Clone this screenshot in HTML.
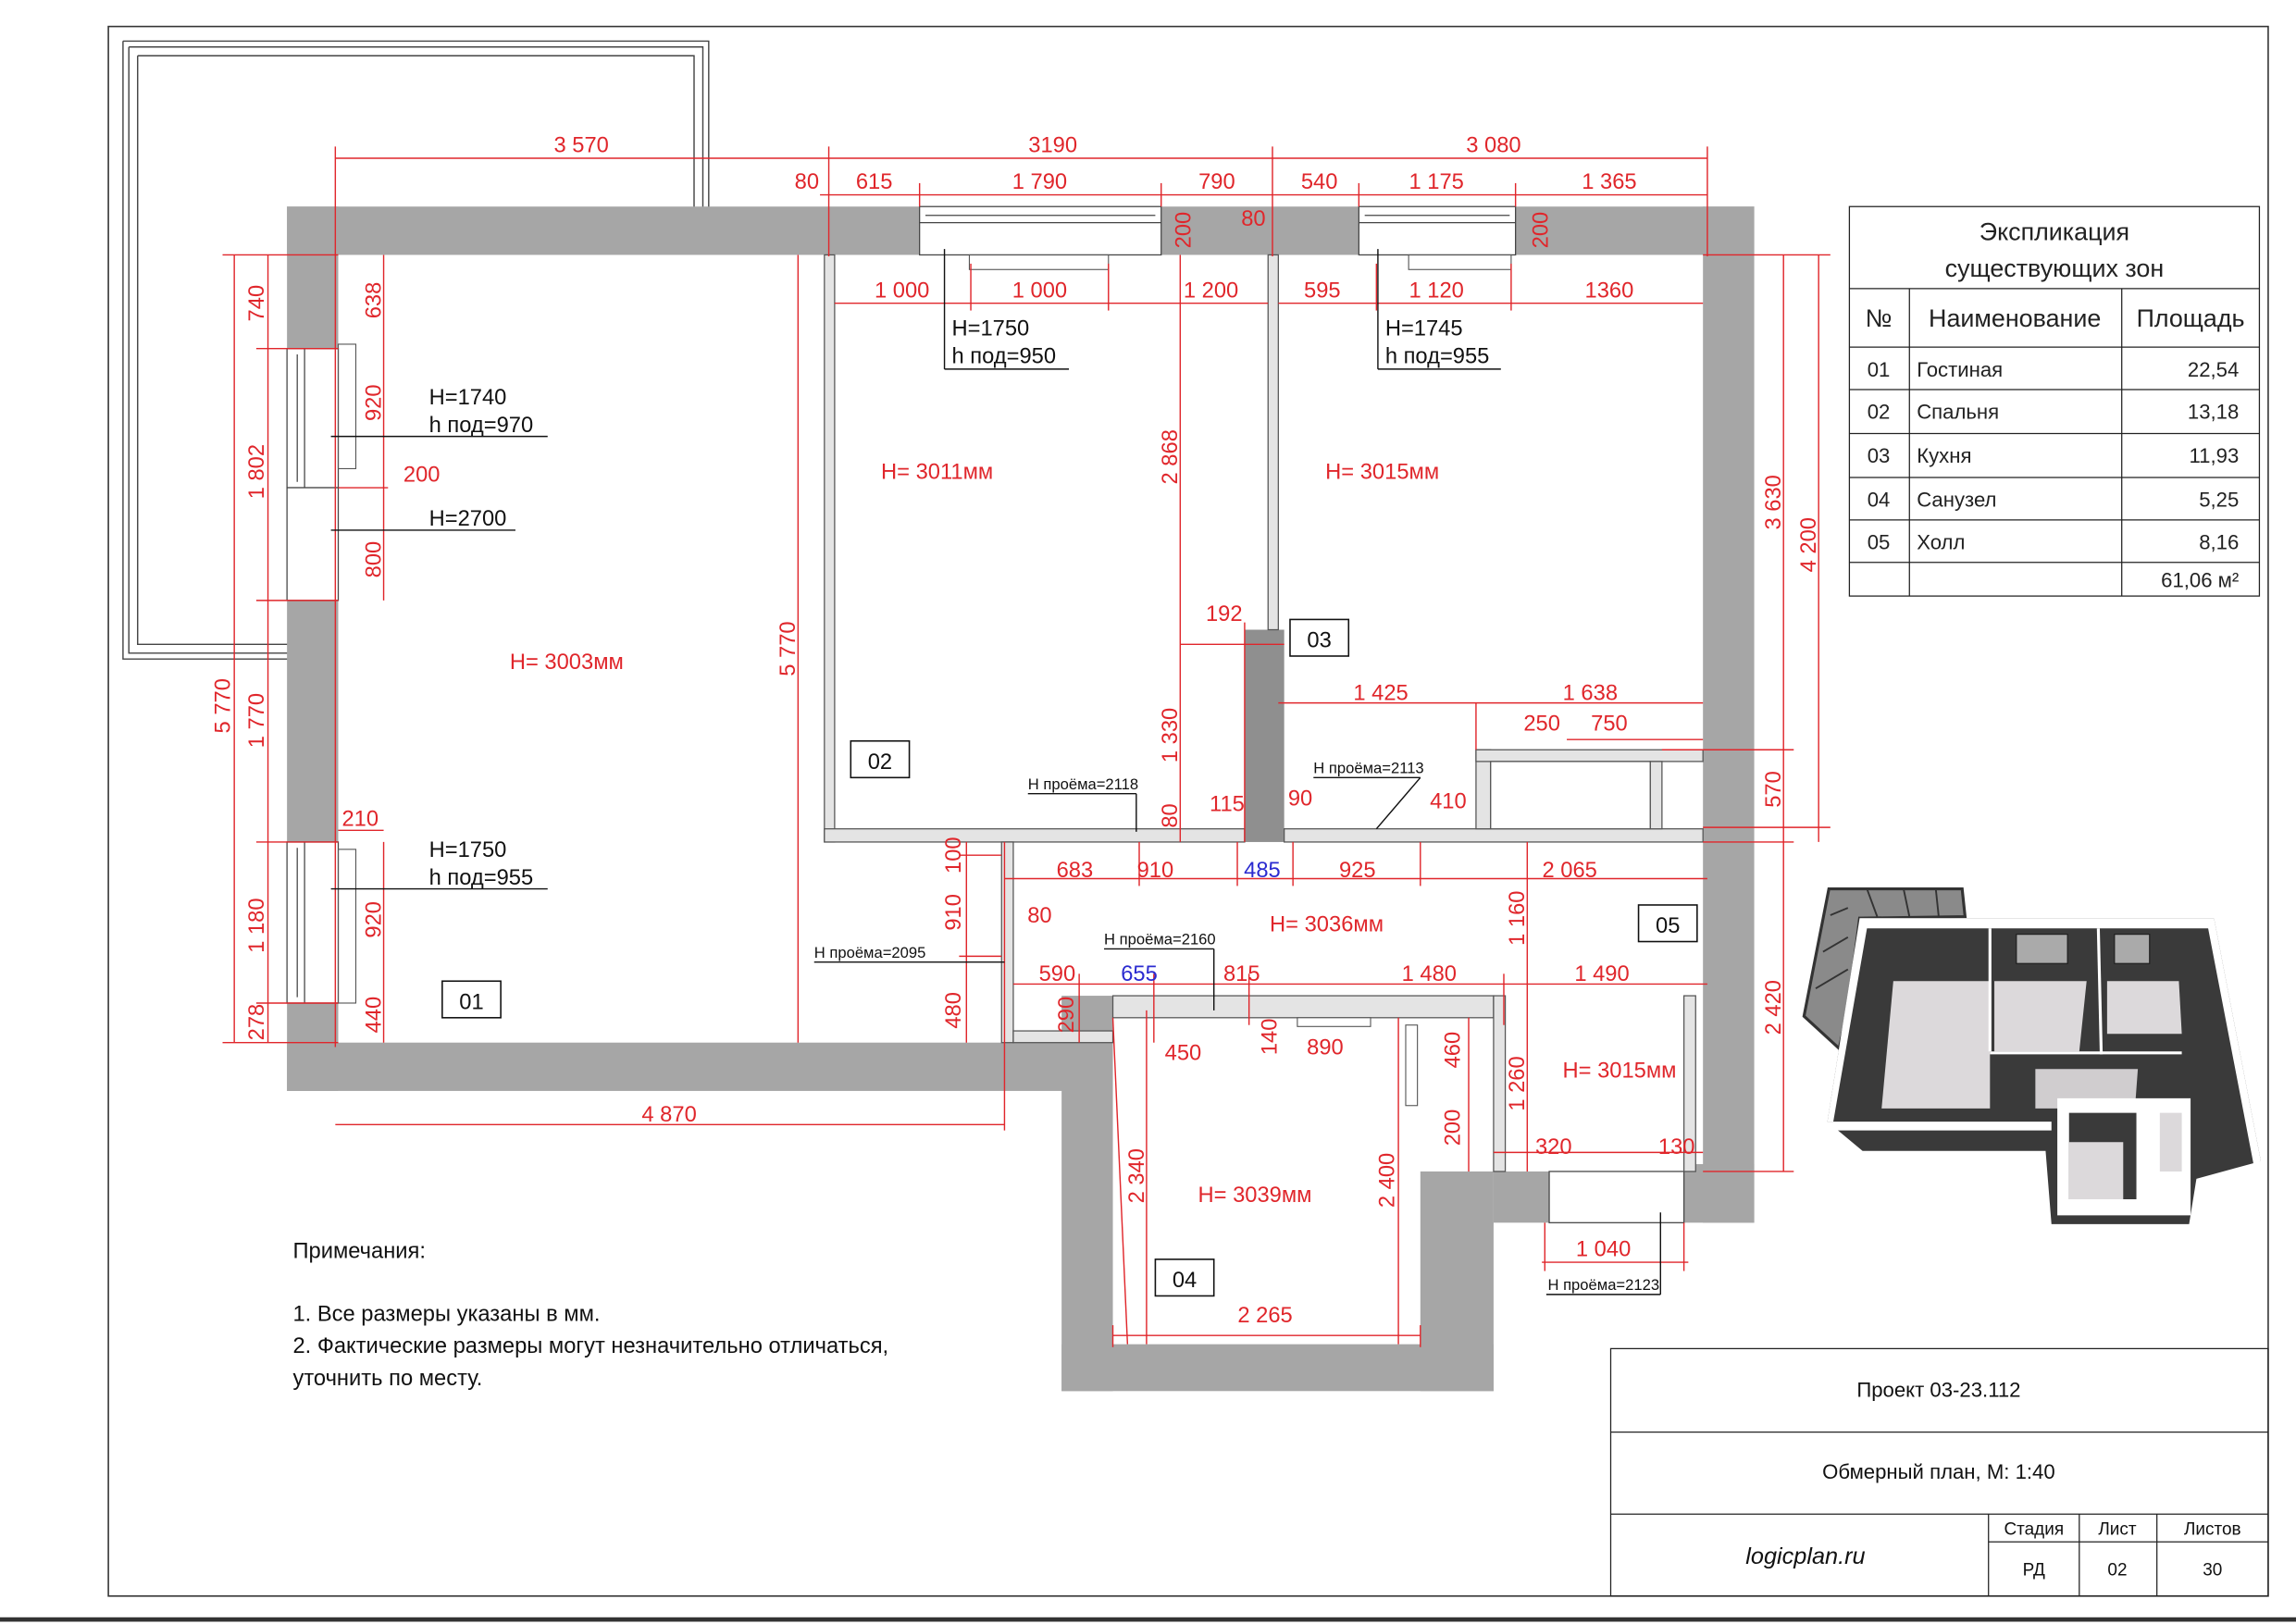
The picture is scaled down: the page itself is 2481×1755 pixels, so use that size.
<!DOCTYPE html>
<html><head><meta charset="utf-8"><style>
html,body{margin:0;padding:0;background:#fff}
svg{display:block}
text{font-family:"Liberation Sans","DejaVu Sans",sans-serif}
.r{fill:#e0262b;font-size:15px}
.k{fill:#111;font-size:15px}
.rl{stroke:#e0262b;stroke-width:0.9;fill:none}
.kl{stroke:#111;stroke-width:0.9;fill:none}
.w{fill:#a6a6a6}
.tw{fill:#e4e4e4;stroke:#555;stroke-width:0.8}
</style></head><body>
<svg width="2481" height="1755" viewBox="0 0 1568 1109" xmlns="http://www.w3.org/2000/svg">
<rect x="0" y="0" width="1568" height="1109" fill="#fff"/>
<rect x="74" y="18" width="1475" height="1072" fill="none" stroke="#333" stroke-width="1"/>
<line x1="0" y1="1106" x2="1568" y2="1106" stroke="#333" stroke-width="3"/>

<g fill="none" stroke="#444" stroke-width="0.9">
<path d="M84,28 H484 V142 M94,38 H474 V142 M84,28 V450 H199 M94,38 V440 H199 M88,32 H480 V142 M88,32 V446 H199"/>
</g>

<g class="w">
<rect x="196" y="141" width="1002" height="33"/>
<rect x="196" y="141" width="35" height="604"/>
<rect x="1163" y="141" width="35" height="694"/>
<rect x="196" y="712" width="564" height="33"/>
<rect x="725" y="680" width="35" height="270"/>
<rect x="725" y="918" width="295" height="32"/>
<rect x="970" y="800" width="50" height="150"/>
<rect x="1020" y="800" width="38" height="35"/>
<rect x="1150" y="795" width="48" height="40"/>
<rect x="850" y="430" width="27" height="145" fill="#8f8f8f"/>
</g>
<g fill="#fff" stroke="#444" stroke-width="0.8">
<rect x="628" y="141" width="165" height="33"/>
<line x1="628" y1="152" x2="793" y2="152"/><line x1="632" y1="147" x2="789" y2="147"/>
<rect x="928" y="141" width="107" height="33"/>
<line x1="928" y1="152" x2="1035" y2="152"/><line x1="932" y1="147" x2="1031" y2="147"/>
<rect x="196" y="238" width="35" height="95"/>
<line x1="208" y1="238" x2="208" y2="333"/><line x1="203" y1="242" x2="203" y2="329"/>
<rect x="196" y="333" width="35" height="77"/>
<rect x="196" y="575" width="35" height="110"/>
<line x1="208" y1="575" x2="208" y2="685"/><line x1="203" y1="579" x2="203" y2="681"/>
<rect x="1058" y="800" width="92" height="35"/>
</g>
<g fill="none" stroke="#555" stroke-width="0.7">
<rect x="662" y="174" width="95" height="10"/>
<rect x="962" y="174" width="70" height="10"/>
<rect x="231" y="235" width="12" height="85"/>
<rect x="231" y="580" width="12" height="105"/>
</g>
<g class="tw">
<rect x="563" y="174" width="7" height="401"/>
<rect x="866" y="174" width="7" height="256"/>
<rect x="563" y="566" width="287" height="9"/>
<rect x="877" y="566" width="286" height="9"/>
<rect x="684" y="575" width="8" height="137"/>
<rect x="692" y="704" width="68" height="8"/>
<rect x="760" y="680" width="260" height="15"/>
<rect x="1020" y="680" width="8" height="120"/>
<rect x="1008" y="512" width="10" height="54"/>
<rect x="1008" y="512" width="155" height="8"/>
<rect x="1127" y="520" width="8" height="46"/>
<rect x="1150" y="680" width="8" height="120"/>
</g>
<rect x="1018" y="520" width="109" height="46" fill="#fff" stroke="#555" stroke-width="0.8"/>
<rect x="960" y="700" width="8" height="55" fill="#fff" stroke="#555" stroke-width="0.7"/>
<rect x="886" y="695" width="50" height="6" fill="#fff" stroke="#555" stroke-width="0.7"/>

<g class="rl">
<line x1="229" y1="108" x2="566" y2="108"/><line x1="229" y1="100" x2="229" y2="715"/>
<line x1="566" y1="108" x2="869" y2="108"/><line x1="566" y1="100" x2="566" y2="175"/>
<line x1="869" y1="108" x2="1166" y2="108"/><line x1="869" y1="100" x2="869" y2="175"/><line x1="1166" y1="100" x2="1166" y2="175"/>
<line x1="560" y1="133" x2="870" y2="133"/><line x1="870" y1="133" x2="1166" y2="133"/>
<line x1="628" y1="125" x2="628" y2="141"/><line x1="793" y1="125" x2="793" y2="141"/>
<line x1="928" y1="125" x2="928" y2="141"/><line x1="1035" y1="125" x2="1035" y2="141"/>
<line x1="570" y1="207" x2="866" y2="207"/><line x1="873" y1="207" x2="1163" y2="207"/>
<line x1="663" y1="180" x2="663" y2="212"/><line x1="757" y1="180" x2="757" y2="212"/>
<line x1="940" y1="180" x2="940" y2="212"/><line x1="1032" y1="180" x2="1032" y2="212"/>
<line x1="545" y1="174" x2="545" y2="712"/>
<line x1="160" y1="174" x2="160" y2="712"/><line x1="183" y1="174" x2="183" y2="712"/>
<line x1="152" y1="174" x2="231" y2="174"/><line x1="152" y1="712" x2="231" y2="712"/>
<line x1="175" y1="238" x2="231" y2="238"/><line x1="175" y1="410" x2="231" y2="410"/>
<line x1="175" y1="575" x2="231" y2="575"/><line x1="175" y1="685" x2="231" y2="685"/>
<line x1="262" y1="174" x2="262" y2="410"/><line x1="262" y1="575" x2="262" y2="712"/>
<line x1="231" y1="333" x2="265" y2="333"/><line x1="231" y1="567" x2="262" y2="567"/>
<line x1="229" y1="768" x2="686" y2="768"/><line x1="686" y1="575" x2="686" y2="772"/>
<line x1="806" y1="174" x2="806" y2="575"/><line x1="806" y1="440" x2="877" y2="440"/>
<line x1="850" y1="425" x2="850" y2="575"/>
<line x1="873" y1="480" x2="1163" y2="480"/><line x1="1008" y1="480" x2="1008" y2="512"/>
<line x1="1070" y1="505" x2="1163" y2="505"/>
<line x1="1218" y1="174" x2="1218" y2="575"/><line x1="1242" y1="174" x2="1242" y2="575"/>
<line x1="1163" y1="174" x2="1250" y2="174"/><line x1="1163" y1="565" x2="1250" y2="565"/>
<line x1="1135" y1="512" x2="1225" y2="512"/>
<line x1="1218" y1="575" x2="1218" y2="800"/><line x1="1163" y1="575" x2="1225" y2="575"/><line x1="1163" y1="800" x2="1225" y2="800"/>
<line x1="686" y1="600" x2="1166" y2="600"/>
<line x1="778" y1="575" x2="778" y2="605"/><line x1="845" y1="575" x2="845" y2="605"/><line x1="883" y1="575" x2="883" y2="605"/><line x1="970" y1="575" x2="970" y2="605"/>
<line x1="1043" y1="575" x2="1043" y2="800"/>
<line x1="692" y1="672" x2="1166" y2="672"/>
<line x1="737" y1="665" x2="737" y2="712"/><line x1="788" y1="665" x2="788" y2="712"/><line x1="853" y1="665" x2="853" y2="700"/><line x1="1027" y1="665" x2="1027" y2="700"/>
<line x1="660" y1="575" x2="660" y2="712"/><line x1="655" y1="584" x2="684" y2="584"/><line x1="655" y1="653" x2="684" y2="653"/>
<line x1="783" y1="690" x2="783" y2="918"/><line x1="955" y1="695" x2="955" y2="918"/>
<line x1="760" y1="912" x2="970" y2="912"/><line x1="760" y1="905" x2="760" y2="920"/><line x1="970" y1="905" x2="970" y2="920"/>
<line x1="1003" y1="695" x2="1003" y2="800"/>
<line x1="1020" y1="787" x2="1163" y2="787"/>
<line x1="1053" y1="862" x2="1153" y2="862"/><line x1="1055" y1="835" x2="1055" y2="868"/><line x1="1150" y1="835" x2="1150" y2="868"/>
<line x1="760" y1="695" x2="770" y2="918"/>
</g>

<g class="r" text-anchor="middle">
<text x="397" y="104">3 570</text><text x="719" y="104">3190</text><text x="1020" y="104">3 080</text>
<text x="551" y="129">80</text><text x="597" y="129">615</text><text x="710" y="129">1 790</text><text x="831" y="129">790</text>
<text x="856" y="154">80</text><text x="901" y="129">540</text><text x="981" y="129">1 175</text><text x="1099" y="129">1 365</text>
<text x="616" y="203">1 000</text><text x="710" y="203">1 000</text><text x="827" y="203">1 200</text>
<text x="903" y="203">595</text><text x="981" y="203">1 120</text><text x="1099" y="203">1360</text>
<text x="640" y="327">H= 3011мм</text><text x="944" y="327">H= 3015мм</text>
<text x="387" y="457">H= 3003мм</text>
<text x="836" y="424">192</text>
<text x="943" y="478">1 425</text><text x="1086" y="478">1 638</text>
<text x="1053" y="499">250</text><text x="1099" y="499">750</text>
<text x="838" y="554">115</text><text x="888" y="550">90</text><text x="989" y="552">410</text>
<text x="246" y="564">210</text><text x="288" y="329">200</text>
<text x="734" y="599">683</text><text x="789" y="599">910</text><text x="862" y="599" fill="#2b2bd0">485</text><text x="927" y="599">925</text><text x="1072" y="599">2 065</text>
<text x="710" y="630">80</text>
<text x="906" y="636">H= 3036мм</text>
<text x="722" y="670">590</text><text x="778" y="670" fill="#2b2bd0">655</text><text x="848" y="670">815</text><text x="976" y="670">1 480</text><text x="1094" y="670">1 490</text>
<text x="808" y="724">450</text><text x="905" y="720">890</text>
<text x="1106" y="736">H= 3015мм</text>
<text x="1061" y="788">320</text><text x="1145" y="788">130</text>
<text x="857" y="821">H= 3039мм</text>
<text x="1095" y="858">1 040</text>
<text x="864" y="903">2 265</text>
<text x="457" y="766">4 870</text>
</g>
<g class="r" text-anchor="middle">
<text transform="translate(180,207) rotate(-90)">740</text>
<text transform="translate(180,322) rotate(-90)">1 802</text>
<text transform="translate(180,492) rotate(-90)">1 770</text>
<text transform="translate(180,632) rotate(-90)">1 180</text>
<text transform="translate(180,698) rotate(-90)">278</text>
<text transform="translate(157,482) rotate(-90)">5 770</text>
<text transform="translate(260,205) rotate(-90)">638</text>
<text transform="translate(260,275) rotate(-90)">920</text>
<text transform="translate(260,382) rotate(-90)">800</text>
<text transform="translate(260,628) rotate(-90)">920</text>
<text transform="translate(260,693) rotate(-90)">440</text>
<text transform="translate(543,443) rotate(-90)">5 770</text>
<text transform="translate(804,312) rotate(-90)">2 868</text>
<text transform="translate(804,502) rotate(-90)">1 330</text>
<text transform="translate(804,557) rotate(-90)">80</text>
<text transform="translate(813,157) rotate(-90)">200</text>
<text transform="translate(1057,157) rotate(-90)">200</text>
<text transform="translate(1216,343) rotate(-90)">3 630</text>
<text transform="translate(1240,372) rotate(-90)">4 200</text>
<text transform="translate(1216,539) rotate(-90)">570</text>
<text transform="translate(1216,688) rotate(-90)">2 420</text>
<text transform="translate(1041,627) rotate(-90)">1 160</text>
<text transform="translate(1041,740) rotate(-90)">1 260</text>
<text transform="translate(656,584) rotate(-90)">100</text>
<text transform="translate(656,623) rotate(-90)">910</text>
<text transform="translate(656,690) rotate(-90)">480</text>
<text transform="translate(733,693) rotate(-90)">290</text>
<text transform="translate(872,708) rotate(-90)">140</text>
<text transform="translate(997,717) rotate(-90)">460</text>
<text transform="translate(997,770) rotate(-90)">200</text>
<text transform="translate(781,803) rotate(-90)">2 340</text>
<text transform="translate(952,806) rotate(-90)">2 400</text>
</g>

<g class="k">
<text x="650" y="229">H=1750</text><text x="650" y="248">h под=950</text>
<text x="946" y="229">H=1745</text><text x="946" y="248">h под=955</text>
<text x="293" y="276">H=1740</text><text x="293" y="295">h под=970</text>
<text x="293" y="359">H=2700</text>
<text x="293" y="585">H=1750</text><text x="293" y="604">h под=955</text>
<text x="200" y="859">Примечания:</text>
<text x="200" y="902">1. Все размеры указаны в мм.</text>
<text x="200" y="924">2. Фактические размеры могут незначительно отличаться,</text>
<text x="200" y="946">уточнить по месту.</text>
</g>
<g class="kl">
<line x1="645" y1="252" x2="730" y2="252"/><line x1="645" y1="170" x2="645" y2="252"/>
<line x1="941" y1="252" x2="1025" y2="252"/><line x1="941" y1="170" x2="941" y2="252"/>
<line x1="226" y1="298" x2="374" y2="298"/><line x1="226" y1="362" x2="352" y2="362"/>
<line x1="226" y1="607" x2="374" y2="607"/>
<line x1="702" y1="542" x2="776" y2="542"/><line x1="776" y1="542" x2="776" y2="568"/>
<line x1="897" y1="531" x2="970" y2="531"/><line x1="970" y1="531" x2="940" y2="566"/>
<line x1="556" y1="657" x2="686" y2="657"/>
<line x1="754" y1="648" x2="829" y2="648"/><line x1="829" y1="648" x2="829" y2="690"/>
<line x1="1056" y1="884" x2="1134" y2="884"/><line x1="1134" y1="884" x2="1134" y2="828"/>
</g>
<g fill="#111" font-size="10.5" font-family="Liberation Sans,sans-serif">
<text x="702" y="539">Н проёма=2118</text>
<text x="897" y="528">Н проёма=2113</text>
<text x="556" y="654">Н проёма=2095</text>
<text x="754" y="645">Н проёма=2160</text>
<text x="1057" y="881">Н проёма=2123</text>
</g>
<g fill="#fff" stroke="#111" stroke-width="1">
<rect x="881" y="423" width="40" height="25"/><rect x="581" y="506" width="40" height="25"/>
<rect x="302" y="670" width="40" height="25"/><rect x="1119" y="618" width="40" height="25"/>
<rect x="789" y="860" width="40" height="25"/>
</g>
<g class="k" font-size="17" text-anchor="middle">
<text x="901" y="442">03</text><text x="601" y="525">02</text><text x="322" y="689">01</text><text x="1139" y="637">05</text><text x="809" y="879">04</text>
</g>

<g fill="none" stroke="#222" stroke-width="0.8">
<rect x="1263" y="141" width="280" height="266"/>
<line x1="1263" y1="197" x2="1543" y2="197"/><line x1="1263" y1="237" x2="1543" y2="237"/>
<line x1="1263" y1="266" x2="1543" y2="266"/><line x1="1263" y1="296" x2="1543" y2="296"/>
<line x1="1263" y1="326" x2="1543" y2="326"/><line x1="1263" y1="355" x2="1543" y2="355"/>
<line x1="1263" y1="384" x2="1543" y2="384"/>
<line x1="1304" y1="197" x2="1304" y2="407"/><line x1="1449" y1="197" x2="1449" y2="407"/>
</g>
<g fill="#222" font-size="17" text-anchor="middle">
<text x="1403" y="164">Экспликация</text><text x="1403" y="189">существующих зон</text>
<text x="1283" y="223">№</text><text x="1376" y="223">Наименование</text><text x="1496" y="223">Площадь</text>
</g>
<g fill="#222" font-size="14">
<text x="1283" y="257" text-anchor="middle">01</text><text x="1309" y="257">Гостиная</text><text x="1529" y="257" text-anchor="end">22,54</text>
<text x="1283" y="286" text-anchor="middle">02</text><text x="1309" y="286">Спальня</text><text x="1529" y="286" text-anchor="end">13,18</text>
<text x="1283" y="316" text-anchor="middle">03</text><text x="1309" y="316">Кухня</text><text x="1529" y="316" text-anchor="end">11,93</text>
<text x="1283" y="346" text-anchor="middle">04</text><text x="1309" y="346">Санузел</text><text x="1529" y="346" text-anchor="end">5,25</text>
<text x="1283" y="375" text-anchor="middle">05</text><text x="1309" y="375">Холл</text><text x="1529" y="375" text-anchor="end">8,16</text>
<text x="1529" y="401" text-anchor="end">61,06 м²</text>
</g>

<!-- 3D view -->
<g>
<polygon points="1249,607 1340,607 1342,626 1270,627 1262,690 1256,716 1232,694" fill="#8a8a8a" stroke="#333" stroke-width="2"/>
<g stroke="#333" stroke-width="1.2"><line x1="1250" y1="625" x2="1262" y2="620"/><line x1="1245" y1="650" x2="1262" y2="640"/><line x1="1240" y1="675" x2="1262" y2="662"/><line x1="1275" y1="607" x2="1282" y2="626"/><line x1="1300" y1="607" x2="1304" y2="626"/><line x1="1322" y1="607" x2="1324" y2="626"/></g>
<polygon points="1248,766 1270,627 1512,627 1544,793 1500,805 1495,836 1401,836 1397,786 1272,786" fill="#3a3a3a"/>
<polygon points="1270,627 1512,627 1544,793 1539,795 1508,634 1275,634 1252,766 1248,766" fill="#fff"/>
<polygon points="1248,766 1401,766 1401,772 1252,772" fill="#fff"/>
<polygon points="1293,670 1359,670 1359,757 1285,757" fill="#dcd9db"/>
<polygon points="1362,670 1425,670 1420,718 1362,718" fill="#dcd9db"/>
<polygon points="1439,670 1488,670 1490,706 1439,706" fill="#dcd9db"/>
<polygon points="1390,730 1460,730 1458,757 1390,757" fill="#d0cdcf"/>
<polygon points="1405,750 1496,750 1496,830 1405,830" fill="#fff"/>
<polygon points="1413,760 1459,760 1459,819 1413,819" fill="#3a3a3a"/>
<polygon points="1413,780 1450,780 1450,819 1413,819" fill="#dcd9db"/>
<polygon points="1475,760 1490,760 1490,800 1475,800" fill="#dcd9db"/>
<rect x="1377" y="638" width="35" height="20" fill="#aaa" stroke="#222" stroke-width="0.8"/>
<rect x="1444" y="638" width="24" height="20" fill="#aaa" stroke="#222" stroke-width="0.8"/>
<line x1="1359" y1="634" x2="1359" y2="718" stroke="#fff" stroke-width="2"/>
<line x1="1433" y1="634" x2="1435" y2="720" stroke="#fff" stroke-width="2"/>
<line x1="1359" y1="719" x2="1490" y2="719" stroke="#fff" stroke-width="2"/>
</g>

<g fill="none" stroke="#222" stroke-width="0.8">
<rect x="1100" y="921" width="449" height="169"/>
<line x1="1100" y1="978" x2="1549" y2="978"/><line x1="1100" y1="1034" x2="1549" y2="1034"/>
<line x1="1358" y1="1034" x2="1358" y2="1090"/><line x1="1420" y1="1034" x2="1420" y2="1090"/><line x1="1473" y1="1034" x2="1473" y2="1090"/>
<line x1="1358" y1="1053" x2="1549" y2="1053"/>
</g>
<g fill="#111" text-anchor="middle">
<text x="1324" y="954" font-size="14">Проект 03-23.112</text>
<text x="1324" y="1010" font-size="14">Обмерный план, М: 1:40</text>
<text x="1233" y="1068" font-size="16" font-style="italic">logicplan.ru</text>
<text x="1389" y="1048" font-size="12">Стадия</text><text x="1446" y="1048" font-size="12">Лист</text><text x="1511" y="1048" font-size="12">Листов</text>
<text x="1389" y="1076" font-size="12">РД</text><text x="1446" y="1076" font-size="12">02</text><text x="1511" y="1076" font-size="12">30</text>
</g>
</svg>
</body></html>
